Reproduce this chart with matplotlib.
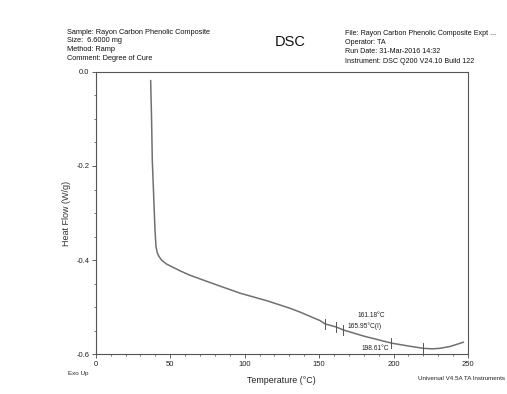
import numpy as np
import matplotlib
matplotlib.use("Agg")
import matplotlib.pyplot as plt
from matplotlib.ticker import MultipleLocator

plt.rcParams['font.family'] = ['Liberation Sans', 'DejaVu Sans']

# curve: temperature (C) vs heat flow (W/g)
temp = [36.9, 37.5, 38.0, 39.0, 39.8, 40.5, 41.4, 42.5, 44.3, 47.5, 51.9, 57.0, 63.4,
        80.0, 97.0, 115.0, 130.5, 137.2, 150.6, 154.0, 161.8, 166.3, 180.0, 198.8,
        210.0, 220.0, 226.0, 231.0, 238.0, 243.0, 246.9]
heat_flow = [-0.019, -0.10, -0.188, -0.27, -0.336, -0.372, -0.385, -0.392, -0.400, -0.408,
             -0.415, -0.423, -0.432, -0.451, -0.470, -0.486, -0.502, -0.510, -0.528, -0.535,
             -0.542, -0.548, -0.561, -0.576, -0.582, -0.587, -0.588, -0.587, -0.583, -0.578,
             -0.574]

# analysis tick marks on the curve
mark_temp = [154.0, 161.18, 165.95, 198.61, 220.0]
labels = ["161.18°C", "165.95°C(I)", "198.61°C"]
label_pos = [(175.5, -0.517), (169.4, -0.539), (178.8, -0.587)]

header_left = ["Sample: Rayon Carbon Phenolic Composite", "Size:  6.6000 mg",
               "Method: Ramp", "Comment: Degree of Cure"]
header_right = ["File: Rayon Carbon Phenolic Composite Expt ...", "Operator: TA",
                "Run Date: 31-Mar-2016 14:32", "Instrument: DSC Q200 V24.10 Build 122"]

fig = plt.figure(figsize=(5.07, 3.94), dpi=100)
ax = fig.add_axes([0.1888, 0.1003, 0.7342, 0.7177])

line_col = "#707070"
ax.plot(temp, heat_flow, color=line_col, lw=1.1)

mark_hf = np.interp(mark_temp, temp, heat_flow)
for t, h in zip(mark_temp, mark_hf):
    ax.plot([t, t], [h - 0.011, h + 0.011], color="#555555", lw=0.7)

for txt, (x, y) in zip(labels, label_pos):
    ax.text(x, y, txt, fontsize=4.8, color="#222222", ha="left", va="center")

ax.set_xlim(0, 250)
ax.set_ylim(-0.6, 0.0)
ax.xaxis.set_major_locator(MultipleLocator(50))
ax.xaxis.set_minor_locator(MultipleLocator(10))
ax.yaxis.set_major_locator(MultipleLocator(0.2))
ax.yaxis.set_minor_locator(MultipleLocator(0.05))
ax.yaxis.set_major_formatter(plt.FuncFormatter(lambda v, p: f"{v:.1f}"))
ax.tick_params(which="major", length=3, width=0.6, labelsize=5.5, pad=1.5, colors="#444444",
               labelcolor="#222222")
ax.tick_params(which="minor", length=1.5, width=0.5, colors="#444444")
for s in ax.spines.values():
    s.set_color("#555555")
    s.set_linewidth(0.8)

ax.set_ylabel("Heat Flow (W/g)", fontsize=6.5, color="#333333", labelpad=4)
ax.set_xlabel("Temperature (°C)", fontsize=6.4, color="#222222", labelpad=6)

for i, s in enumerate(header_left):
    fig.text(67 / 507, 1 - (32 + i * 8.7) / 394, s, fontsize=5.3, color="#111111",
             va="center")
for i, s in enumerate(header_right):
    fig.text(345 / 507, 1 - (33.5 + i * 9.2) / 394, s, fontsize=5.1, color="#111111",
             va="center")
fig.text(290 / 507, 1 - 42 / 394, "DSC", fontsize=10.5, color="#111111", ha="center",
         va="center")

fig.text(68 / 507, 1 - 374 / 394, "Exo Up", fontsize=4.5, color="#222222", va="center")
fig.text(505 / 507, 1 - 378 / 394, "Universal V4.5A TA Instruments", fontsize=4.5,
         color="#222222", ha="right", va="center")

fig.savefig("out.png", dpi=100, facecolor="white")
